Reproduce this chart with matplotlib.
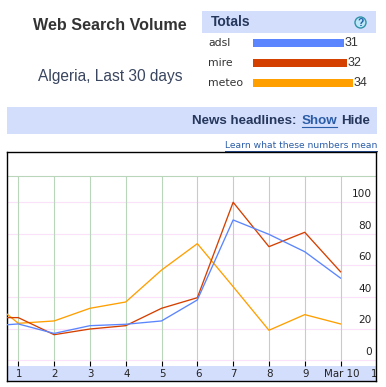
#!/usr/bin/env python

import matplotlib
matplotlib.use('Agg')
import matplotlib.pyplot as plt
from matplotlib.patches import Rectangle, Circle

W, H = 386, 387

terms = ['adsl', 'mire', 'meteo']
totals = [31, 32, 34]
term_colors = ['#5A85FF', '#D44000', '#FF9F00']

days = [0.68, 1, 2, 3, 4, 5, 6, 7, 8, 9, 10]
adsl = [22.5, 23, 17, 21.9, 22.8, 24.9, 38.2, 88.8, 79.7, 68.7, 52]
mire = [27, 27, 16.2, 19.8, 21.9, 32.9, 39.6, 100, 71.9, 81, 56]
meteo = [29.3, 23.4, 24.9, 32.9, 36.9, 57.1, 73.8, 46.6, 19, 28.9, 23]

x_ticks = [1, 2, 3, 4, 5, 6, 7, 8, 9, 10, 11]
x_labels = ['1', '2', '3', '4', '5', '6', '7', '8', '9', 'Mar 10', '1']
y_ticks = [0, 20, 40, 60, 80, 100]

BAND = '#D3DDFC'
NAVY = '#25375C'
GREEN = '#BAD6BA'
PINK = '#FBE2FA'
LINK = '#2A5DA8'


def px_axes(fig, left, top, right, bottom):
    return fig.add_axes([left / W, 1 - bottom / H, (right - left) / W, (bottom - top) / H])


fig = plt.figure(figsize=(W / 100, H / 100), dpi=100, facecolor='white')

# page furniture, in pixels
bg = fig.add_axes([0, 0, 1, 1])
bg.set_xlim(0, W)
bg.set_ylim(H, 0)
bg.axis('off')

bg.text(110, 25, 'Web Search Volume', family='Liberation Sans', fontweight='bold',
        fontsize=11.6, color='#333333', ha='center', va='center')
bg.text(110, 77, 'Algeria, Last 30 days', family='Liberation Sans',
        fontsize=11.2, color='#3A4660', ha='center', va='center')

bg.add_patch(Rectangle((202, 11), 174, 22, fc=BAND, ec='none'))
bg.text(211, 22, 'Totals', family='Liberation Sans', fontweight='bold',
        fontsize=10, color=NAVY, va='center')
bg.add_patch(Circle((360.5, 22.5), 5.5, fc='#BDE6F7', ec='#2E93A8', lw=1))
bg.text(360.5, 22.5, '?', family='Liberation Sans', fontweight='bold',
        fontsize=7.5, color='#1F5FA8', ha='center', va='center')

for i, term in enumerate(terms):
    bg.text(208, 43.5 + 20 * i, term, family='DejaVu Sans', fontsize=7.8,
            color='#333333', va='center')

bg.add_patch(Rectangle((7, 107), 370, 27, fc=BAND, ec='none'))
bg.text(297, 120.5, 'News headlines:', family='Liberation Sans', fontweight='bold',
        fontsize=9.6, color=NAVY, ha='right', va='center')
bg.text(301.5, 120.5, 'Show', family='Liberation Sans', fontweight='bold',
        fontsize=9.6, color=LINK, va='center')
bg.plot([301.5, 337], [126.5, 126.5], color=LINK, lw=0.8)
bg.text(341, 120.5, 'Hide', family='Liberation Sans', fontweight='bold',
        fontsize=9.6, color=NAVY, va='center')

bg.text(377, 146, 'Learn what these numbers mean', family='DejaVu Sans',
        fontsize=6.55, color=LINK, ha='right', va='center')
bg.plot([225, 377], [150.5, 150.5], color='#1F4A96', lw=0.7)

# totals bars
bar_ax = px_axes(fig, 253, 33, 353, 93)
bar_ax.axis('off')
bar_ax.barh(range(len(terms)), totals, height=0.4, color=term_colors)
bar_ax.set_xlim(0, 34.1)
bar_ax.set_ylim(2.5, -0.5)
for i, v in enumerate(totals):
    bar_ax.annotate('%d' % v, (v, i), xytext=(0.5, 0), textcoords='offset points',
                    family='Liberation Sans', fontsize=9, color='#333333',
                    va='center', ha='left', annotation_clip=False)

# main chart
ax = px_axes(fig, 7, 152, 376, 381)
ax.set_xlim(0.684, 10.99)
ax.set_ylim(-13.1, 131.8)
ax.set_facecolor('white')
for s in ax.spines.values():
    s.set_color('black')
    s.set_linewidth(1)

ax.hlines(y_ticks, 0.684, 10.99, color=PINK, lw=0.8, zorder=1)
ax.vlines(x_ticks[:-1], 0, 116.6, color=GREEN, lw=0.8, zorder=1)
ax.hlines(116.6, 0.684, 10.99, color=GREEN, lw=0.8, zorder=1)
ax.axhspan(-13.1, -3.6, color=BAND, lw=0, zorder=1)

ax.plot(days, meteo, color=term_colors[2], lw=0.95, zorder=3)
ax.plot(days, mire, color=term_colors[1], lw=0.95, zorder=3)
ax.plot(days, adsl, color=term_colors[0], lw=0.95, zorder=4)

ax.vlines(x_ticks[:-1], -3.6, -0.6, color='black', lw=0.8, zorder=5)

ax.set_xticks([])
ax.set_yticks([])
for t, lab in zip(x_ticks, x_labels):
    if t == 11:
        # the last label is cut off by the frame
        ax.text(10.93, -8.8, lab, family='DejaVu Sans', fontsize=7.4, color='#222222',
                ha='center', va='center', clip_on=True)
    else:
        ax.text(t + 0.02, -8.8, lab, family='DejaVu Sans', fontsize=7.4, color='#222222',
                ha='center', va='center', clip_on=True)
for v in y_ticks:
    ax.annotate('%d' % v, (10.87, v), xytext=(0, 6), textcoords='offset points',
                family='DejaVu Sans', fontsize=7.6, color='#222222', ha='right', va='center')

fig.savefig('out.png', dpi=100)
